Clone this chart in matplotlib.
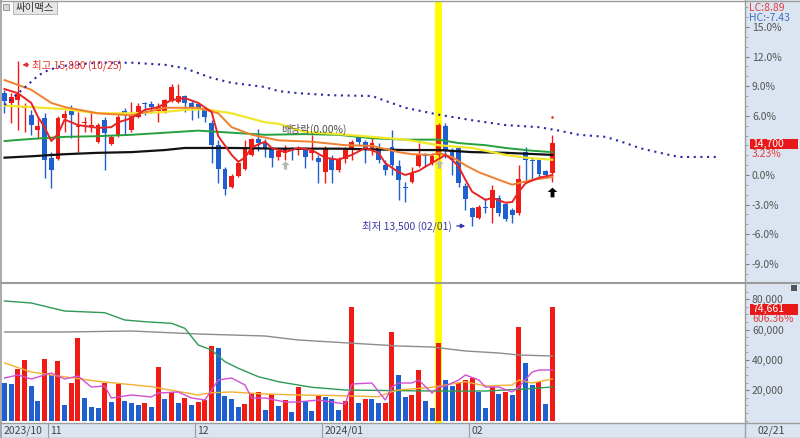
import numpy as np
import matplotlib
matplotlib.use('Agg')
import matplotlib.pyplot as plt
from matplotlib.patches import Rectangle
from matplotlib.lines import Line2D

plt.rcParams['font.family'] = ['Noto Sans CJK KR', 'DejaVu Sans']

# ---------------- data ----------------
stock_name = '싸이맥스'
opens = [15420, 15280, 15320, 15200, 15100, 14890, 15060, 14490, 14470, 15060,
         15160, 14930, 14990, 14950, 14720, 15030, 14690, 14820, 15160, 14890,
         15080, 15280, 15260, 15160, 15130, 15310, 15290, 15380, 15280, 15260,
         15190, 14990, 14670, 14330, 14070, 14230, 14330, 14530, 14760, 14720,
         14630, 14500, 14560, 14630, 14600, 14610, 14560, 14490, 14280, 14490,
         14310, 14470, 14600, 14790, 14720, 14630, 14640, 14380, 14640, 14370,
         14070, 14140, 14370, 14530, 14410, 14530, 14950, 14600, 14630, 14080,
         13760, 13620, 13780, 13760, 13910, 13820, 13740, 13690, 14570, 14460,
         14460, 14300, 14270]
highs = [15470, 15420, 15880, 15280, 15180, 15060, 15130, 14570, 15090, 15180,
         15250, 15150, 15080, 15150, 14990, 15080, 14820, 15110, 15210, 15290,
         15280, 15290, 15310, 15280, 15340, 15550, 15550, 15390, 15320, 15280,
         15210, 15030, 14750, 14360, 14260, 14430, 14750, 14770, 14900, 14760,
         14640, 14620, 14670, 14640, 14660, 14640, 14820, 14530, 14660, 14530,
         14500, 14640, 14750, 14820, 14750, 14770, 14700, 14460, 14890, 14460,
         14140, 14360, 14700, 14560, 14560, 14990, 14990, 14630, 14660, 14120,
         13780, 13810, 13910, 14100, 13950, 13840, 13760, 14380, 14640, 14500,
         14470, 14310, 14820]
lows = [15130, 14990, 14890, 14860, 14820, 14770, 14200, 14050, 14460, 14860,
        14770, 14570, 14860, 14860, 14700, 14310, 14670, 14790, 14820, 14860,
        15060, 15100, 15130, 15000, 15130, 15290, 15280, 15150, 15030, 15060,
        15000, 14410, 14120, 13950, 14050, 14210, 14310, 14510, 14590, 14500,
        14360, 14460, 14460, 14460, 14530, 14340, 14460, 14120, 14120, 14120,
        14280, 14410, 14460, 14670, 14410, 14530, 14410, 14240, 14240, 13880,
        13850, 14120, 14360, 14360, 14380, 14500, 14490, 14240, 14070, 13740,
        13500, 13610, 13690, 13550, 13650, 13580, 13550, 13660, 14170, 14170,
        14200, 14200, 14140]
closes = [15310, 15370, 15410, 15210, 14960, 14950, 14460, 14310, 15060, 15120,
          15100, 14950, 15000, 14960, 14960, 14850, 14790, 15080, 15100, 15110,
          15240, 15260, 15220, 15220, 15320, 15510, 15380, 15280, 15210, 15190,
          15080, 14670, 14330, 14040, 14230, 14410, 14630, 14760, 14700, 14610,
          14490, 14590, 14630, 14610, 14630, 14500, 14590, 14430, 14630, 14310,
          14470, 14600, 14720, 14720, 14630, 14700, 14460, 14310, 14380, 14170,
          14050, 14270, 14530, 14510, 14510, 14960, 14600, 14460, 14120, 13890,
          13630, 13780, 13760, 14020, 13690, 13610, 13660, 14180, 14460, 14440,
          14260, 14240, 14700]
volumes = [24950, 23870, 33790, 39930, 22770, 13070, 40390, 30030, 39270, 10230,
           24550, 54650, 15050, 9110, 8050, 24950, 12410, 23870, 12870, 11750,
           10230, 11350, 9110, 35110, 13990, 19010, 11350, 14650, 10230, 12410,
           13530, 49370, 47650, 16370, 13990, 8710, 10690, 17950, 18610, 6930,
           17290, 9770, 13530, 5810, 22310, 12870, 6470, 16170, 15310, 13990,
           6930, 12870, 75110, 11750, 14390, 14200, 11350, 11750, 58610, 30030,
           15310, 16830, 33330, 12870, 8450, 51350, 26730, 22770, 24950, 26730,
           28250, 18610, 8450, 22310, 17290, 19010, 16830, 61910, 38150, 23430,
           25610, 10570, 74661]

month_start_idx = [0, 7, 29, 48, 70]
month_labels = ['2023/10', '11', '12', '2024/01', '02']
last_date_label = '02/21'
highlight_idx = 65
hi_label = '최고 15,880 (10/25)'
lo_label = '최저 13,500 (02/01)'
div_label = '배당락(0.00%)'
vol_change_label = '606.36%'

# price moving-average lines
ma_red_idx = [0, 2, 4, 5, 6, 7, 8, 9, 11, 14, 16, 17, 19, 21, 23, 25, 27, 29, 31, 32,
              34, 35, 36, 37, 39, 40, 42, 44, 46, 48, 50, 52, 54, 56, 57, 59, 60, 62, 63, 65,
              66, 67, 68, 69, 70, 72, 73, 75, 76, 77, 78, 80, 82]
ma_red_val = [15480, 15420, 15280, 15080, 14930, 14730, 14830, 15040, 14960, 14920,
              14930, 15000, 15060, 15180, 15220, 15320, 15350, 15280, 15150, 14800,
              14530, 14430, 14490, 14640, 14720, 14630, 14570, 14630, 14600, 14490,
              14460, 14530, 14630, 14560, 14410, 14280, 14240, 14300, 14360, 14470,
              14530, 14460, 14360, 14170, 14000, 13880, 13910, 13840, 13850, 14000,
              14120, 14200, 14240]
ma_orange_idx = [0, 4, 7, 9, 14, 19, 24, 29, 32, 34, 37, 41, 46, 51, 55, 59, 61, 64, 65, 67,
                 69, 71, 74, 76, 79, 82]
ma_orange_val = [15610, 15470, 15280, 15220, 15130, 15100, 15210, 15210, 15130, 14930,
                 14820, 14740, 14720, 14670, 14660, 14570, 14540, 14530, 14560, 14500,
                 14380, 14280, 14170, 14100, 14170, 14210]
ma_yellow_idx = [0, 4, 9, 14, 19, 24, 27, 30, 34, 39, 41, 45, 50, 55, 60, 65, 70, 75, 78, 82]
ma_yellow_val = [15240, 15220, 15190, 15130, 15130, 15150, 15180, 15190, 15130, 15000,
                 14980, 14860, 14830, 14790, 14750, 14670, 14630, 14530, 14490, 14460]
ma_green_idx = [0, 4, 9, 14, 19, 24, 29, 34, 39, 45, 50, 55, 60, 65, 68, 72, 75, 79, 82]
ma_green_val = [14730, 14760, 14790, 14800, 14820, 14850, 14880, 14850, 14820, 14830,
                14820, 14770, 14750, 14750, 14700, 14670, 14630, 14590, 14570]
ma_black_idx = [0, 4, 9, 14, 19, 24, 27, 34, 41, 50, 60, 65, 70, 75, 82]
ma_black_val = [14490, 14510, 14540, 14560, 14570, 14600, 14630, 14630, 14620, 14620,
                14600, 14600, 14570, 14560, 14530]
dot_idx = [0, 3, 5, 6, 8, 10, 14, 19, 24, 27, 31, 34, 39, 41, 44, 49, 55, 57, 60, 65,
           70, 75, 80, 83, 86, 90, 93, 95, 99, 101, 107]
dot_val = [15250, 15500, 15670, 15730, 15800, 15830, 15860, 15860, 15830, 15780,
           15640, 15570, 15510, 15450, 15420, 15390, 15380, 15310, 15210, 15110,
           15030, 14960, 14930, 14880, 14820, 14790, 14700, 14630, 14540, 14500, 14500]

# volume moving-average lines
vma_mag_idx = [0, 2, 4, 7, 9, 11, 13, 15, 16, 19, 22, 23, 26, 28, 30, 32, 34, 36, 37, 39,
               42, 44, 47, 51, 52, 55, 57, 58, 59, 61, 62, 64, 65, 66, 68, 69, 71, 72, 74, 76,
               77, 79, 80, 82]
vma_mag_val = [28050, 30030, 27390, 31350, 27390, 29370, 22110, 22770, 14850, 16830,
               15510, 18150, 18810, 14850, 13530, 26730, 28050, 23430, 14850, 14850,
               12210, 12210, 13530, 10890, 24090, 24750, 13530, 22110, 24750, 24750,
               26730, 18150, 22110, 22770, 26730, 30030, 26730, 22110, 22110, 18810,
               22110, 32010, 33330, 33330]
vma_orange_idx = [0, 4, 7, 14, 22, 29, 31, 34, 39, 44, 49, 56, 58, 59, 64, 69, 72, 76, 77, 79, 82]
vma_orange_val = [37950, 32010, 30030, 25870, 22310, 16830, 18350, 18810, 17490, 16830,
                  16500, 15710, 19010, 20130, 21910, 25610, 22770, 23430, 26730, 24750, 27390]
vma_green_idx = [0, 4, 9, 15, 18, 21, 25, 27, 29, 31, 33, 35, 38, 41, 46, 51, 59, 65, 72, 78, 82]
vma_green_val = [78870, 77550, 72270, 71150, 66330, 65210, 64130, 60850, 49830, 46530,
                 38810, 34450, 28910, 25610, 21910, 20130, 19670, 19470, 19470, 20790, 22110]
vma_gray_idx = [0, 9, 19, 29, 39, 44, 49, 54, 59, 64, 69, 74, 77, 82]
vma_gray_val = [58410, 58410, 59070, 57090, 55770, 53130, 51810, 50490, 49170, 48510,
                45870, 44550, 43230, 42570]

# ---------------- style ----------------
RED = '#ee1c14'
BLUE = '#1f5fcf'
STRIP = '#dbe5f1'
FRAME = '#9c9c9c'
W, H = 800, 438

fig = plt.figure(figsize=(W / 100, H / 100), dpi=100)
fig.patch.set_facecolor('white')


def fx(x):
    return x / W


def fy(y):
    return 1 - y / H


# strips (behind axes)
fig.patches.append(Rectangle((fx(745), fy(423)), fx(800) - fx(745), fy(0) - fy(423),
                             transform=fig.transFigure, facecolor=STRIP, edgecolor='none', zorder=-2))
fig.patches.append(Rectangle((0, 0), 1, fy(423), transform=fig.transFigure,
                             facecolor=STRIP, edgecolor='none', zorder=-2))

XL = (-0.374, 110.85)
ax1 = fig.add_axes([fx(2), fy(282), fx(745) - fx(2), fy(2) - fy(282)])
ax2 = fig.add_axes([fx(2), fy(423), fx(745) - fx(2), fy(284) - fy(423)])
for ax in (ax1, ax2):
    for s in ax.spines.values():
        s.set_visible(False)
    ax.set_xticks([])
    ax.yaxis.tick_right()
    ax.tick_params(axis='y', which='major', direction='out', length=3, width=0.8,
                   color='#7a7a7a', labelsize=7.5, labelcolor='#555555', pad=2)
    ax.tick_params(axis='y', which='minor', direction='out', length=2, width=0.6,
                   color='#9a9a9a')

o = np.array(opens, float)
h = np.array(highs, float)
l = np.array(lows, float)
c = np.array(closes, float)
v = np.array(volumes, float)
idx = np.arange(len(c))

# price axis ticks as % of previous close
base = c[-2]
pcts = [-9, -6, -3, 0, 6, 9, 12, 15]
ax1.set_yticks([base * (1 + p / 100) for p in pcts], [f'{p:.1f}%' for p in pcts])
ax1.set_yticks([base * (1 + p / 100) for p in range(-10, 18)], minor=True)
vt = [20000, 40000, 60000, 80000]
ax2.set_yticks(vt, [f'{t:,}' for t in vt])
ax2.set_yticks(np.arange(0, 90000, 5000), minor=True)

# highlight
for ax in (ax1, ax2):
    ax.axvspan(highlight_idx - 0.52, highlight_idx + 0.52, color='#ffff00', lw=0, zorder=0.5)

# candles
ccol = np.where(c > o, RED, BLUE)
ax1.vlines(idx, l, h, colors=ccol, linewidth=1.0, zorder=3)
bb = np.minimum(o, c)
bh = np.maximum(np.abs(c - o), 15)
ax1.bar(idx, bh, bottom=bb, width=0.72, color=ccol, linewidth=0, zorder=4)

# moving averages
ax1.plot(ma_black_idx, ma_black_val, color='#111111', lw=1.6, zorder=5)
ax1.plot(ma_green_idx, ma_green_val, color='#25a03c', lw=1.4, zorder=5)
ax1.plot(ma_yellow_idx, ma_yellow_val, color='#f2e62a', lw=1.6, zorder=5)
ax1.plot(ma_orange_idx, ma_orange_val, color='#f08030', lw=1.4, zorder=5)
ax1.plot(ma_red_idx, ma_red_val, color='#e82424', lw=1.4, zorder=6)
ax1.plot(dot_idx, dot_val, color='#2a2aa8', lw=1.5, linestyle=(0, (1.0, 2.2)), zorder=6)

# annotations
ax1.annotate('', xy=(2.25, 15830), xytext=(4.0, 15830),
             arrowprops=dict(arrowstyle='-|>', color='#e03030', lw=1.0, mutation_scale=6), zorder=7)
ax1.text(4.1, 15830, hi_label, color='#e03030', fontsize=7.5, va='center', ha='left', zorder=7)
ax1.text(67.0, 13505, lo_label, color='#3a3aa8', fontsize=7.5, va='center', ha='right', zorder=7)
ax1.annotate('', xy=(69.4, 13505), xytext=(67.3, 13505),
             arrowprops=dict(arrowstyle='-|>', color='#3a3aa8', lw=1.0, mutation_scale=6), zorder=7)
ax1.text(41.4, 14890, div_label, color='#505050', fontsize=7.5, va='center', ha='left', zorder=7)

arrow_verts = [(0, 1), (-1, 0.1), (-0.4, 0.1), (-0.4, -1), (0.4, -1), (0.4, 0.1), (1, 0.1), (0, 1)]
ax1.plot([42, 65], [14380, 14400], ls='none', marker=arrow_verts, ms=6, color='#b8b8b8',
         mec='none', zorder=7)
ax1.plot([82], [14000], ls='none', marker=arrow_verts, ms=7, color='black', mec='none', zorder=7)
ax1.plot([82], [15080], ls='none', marker='o', ms=1.8, color=RED, mec='none', zorder=7)

# volume bars (red when volume rose vs previous day)
vcol = [BLUE] + [RED if v[i] > v[i - 1] else BLUE for i in range(1, len(v))]
ax2.bar(idx, v, width=0.75, color=vcol, linewidth=0, zorder=3)
ax2.plot(vma_gray_idx, vma_gray_val, color='#8c8c8c', lw=1.0, zorder=5)
ax2.plot(vma_green_idx, vma_green_val, color='#2e9a55', lw=1.0, zorder=5)
ax2.plot(vma_orange_idx, vma_orange_val, color='#f2b030', lw=1.0, zorder=5)
ax2.plot(vma_mag_idx, vma_mag_val, color='#d24fd2', lw=1.0, zorder=5)

# limits last (set_yticks may expand them)
for ax in (ax1, ax2):
    ax.set_xlim(*XL)
ax1.set_ylim(12696, 16736)
ax2.set_ylim(-1650, 90090)

# date strip
xt = ax2.get_xaxis_transform()
for i, lab in zip(month_start_idx, month_labels):
    if i > 0:
        ax2.plot([i - 0.5, i - 0.5], [-0.108, 0], transform=xt, clip_on=False,
                 color=FRAME, lw=0.8)
    ax2.text(i - 0.5 + 0.35, -0.055, lab, transform=xt, clip_on=False, fontsize=7.5,
             color='#444444', va='center', ha='left')
fig.text(fx(757), fy(430.5), last_date_label, fontsize=7.5, color='#444444', va='center', ha='left')


# frame lines
def hline(y, x0=0, x1=800, lw=1.0, color=FRAME):
    fig.lines.append(Line2D([fx(x0), fx(x1)], [fy(y), fy(y)], transform=fig.transFigure,
                            color=color, lw=lw, zorder=3))


def vline(x, y0=0, y1=438, lw=1.0, color=FRAME):
    fig.lines.append(Line2D([fx(x), fx(x)], [fy(y0), fy(y1)], transform=fig.transFigure,
                            color=color, lw=lw, zorder=3))


hline(0.5)
hline(283, lw=1.5)
hline(423)
hline(437.5)
vline(0.8, lw=1.2)
vline(745)

# title box
fig.patches.append(Rectangle((fx(3), fy(10)), fx(9) - fx(3), fy(4) - fy(10), transform=fig.transFigure,
                             facecolor='#d8d8d8', edgecolor='#888888', lw=0.6, zorder=2))
fig.patches.append(Rectangle((fx(13), fy(14)), fx(57) - fx(13), fy(1) - fy(14), transform=fig.transFigure,
                             facecolor='#e6e6e6', edgecolor='#b0b0b0', lw=0.6, zorder=2))
fig.text(fx(16), fy(7.5), stock_name, fontsize=7.5, color='#333333', va='center', ha='left', zorder=3)

# right-side labels
lc = (c[-1] / l.min() - 1) * 100
hc = (c[-1] / h.max() - 1) * 100
fig.text(fx(749), fy(8), f'LC:{lc:.2f}', fontsize=7.5, color='#e04040', va='center', ha='left')
fig.text(fx(749), fy(18), f'HC:{hc:.2f}', fontsize=7.5, color='#4070c0', va='center', ha='left')
chg = (c[-1] / c[-2] - 1) * 100
fig.patches.append(Rectangle((fx(750), fy(149)), fx(798) - fx(750), fy(138.5) - fy(149),
                             transform=fig.transFigure, facecolor='#e81818', edgecolor='none', zorder=2))
fig.text(fx(752), fy(143.8), f'{c[-1]:,.0f}', fontsize=7.5, color='white', va='center', ha='left', zorder=3)
fig.text(fx(752), fy(154), f'{chg:.2f}%', fontsize=7.5, color='#e04040', va='center', ha='left', zorder=3)
fig.patches.append(Rectangle((fx(750), fy(314.5)), fx(798) - fx(750), fy(304) - fy(314.5),
                             transform=fig.transFigure, facecolor='#e81818', edgecolor='none', zorder=2))
fig.text(fx(752), fy(309.3), f'{v[-1]:,.0f}', fontsize=7.5, color='white', va='center', ha='left', zorder=3)
fig.text(fx(752), fy(319.5), vol_change_label, fontsize=7.5, color='#e04040', va='center', ha='left', zorder=3)
fig.patches.append(Rectangle((fx(791), fy(291)), fx(797) - fx(791), fy(285) - fy(291),
                             transform=fig.transFigure, facecolor='#555555', edgecolor='none', zorder=2))

fig.savefig('out.png', dpi=100)
